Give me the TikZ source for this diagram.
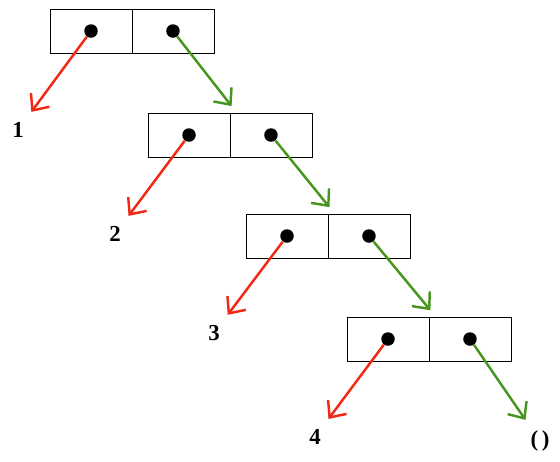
\documentclass[tikz,border=0pt]{standalone}
\usepackage{fontspec}
\setmainfont{Liberation Serif}
\usetikzlibrary{arrows.meta,positioning}

\begin{document}
\begin{tikzpicture}[x=0.02cm,y=-0.02cm,
  every node/.style={font=\fontsize{13}{15}\selectfont\bfseries},
  cell/.style={draw=black,line width=0.5pt,outer sep=0pt,minimum width=1.64cm,minimum height=0.88cm,inner sep=0pt},
  dot/.style={circle,fill=black,minimum size=0.27cm,inner sep=0pt},
  lab/.style={inner sep=1pt},
  car/.style={draw={rgb,255:red,240;green,40;blue,20},line width=1.4pt,-{Straight Barb[length=2.6mm,width=4.6mm]},shorten >=6pt},
  cdr/.style={draw={rgb,255:red,70;green,150;blue,30},line width=1.4pt,-{Straight Barb[length=2.6mm,width=4.6mm]}}]
\useasboundingbox (0,0) rectangle (560,461);
% cons cells
\node[cell] (c1a) at (91,31) {};
\node[cell,right=0pt of c1a] (c1d) {};
\node[cell] (c2a) at (189,135) {};
\node[cell,right=0pt of c2a] (c2d) {};
\node[cell] (c3a) at (287,236) {};
\node[cell,right=0pt of c3a] (c3d) {};
\node[cell] (c4a) at (388,339) {};
\node[cell,right=0pt of c4a] (c4d) {};
\node[dot] (d1a) at (c1a.center) {};
\node[dot] (d1d) at (c1d.center) {};
\node[dot] (d2a) at (c2a.center) {};
\node[dot] (d2d) at (c2d.center) {};
\node[dot] (d3a) at (c3a.center) {};
\node[dot] (d3d) at (c3d.center) {};
\node[dot] (d4a) at (c4a.center) {};
\node[dot] (d4d) at (c4d.center) {};
% atoms
\node[lab] (n1) at (18,130) {1};
\node[lab] (n2) at (115,234) {2};
\node[lab] (n3) at (214,333) {3};
\node[lab] (n4) at (315,437) {4};
\node[lab] (nil) at (540,441) {(\,)};
% pointers
\draw[car] (d1a) -- (n1);
\draw[car] (d2a) -- (n2);
\draw[car] (d3a) -- (n3);
\draw[car] (d4a) -- (n4);
\draw[cdr,shorten >=5pt] (d1d) -- ([xshift=0.14cm]c2a.north east);
\draw[cdr,shorten >=5pt] (d2d) -- ([xshift=0.14cm]c3a.north east);
\draw[cdr,shorten >=5pt] (d3d) -- ([xshift=0.14cm]c4a.north east);
\draw[cdr,shorten >=6pt] (d4d) -- (nil);
\end{tikzpicture}
\end{document}
